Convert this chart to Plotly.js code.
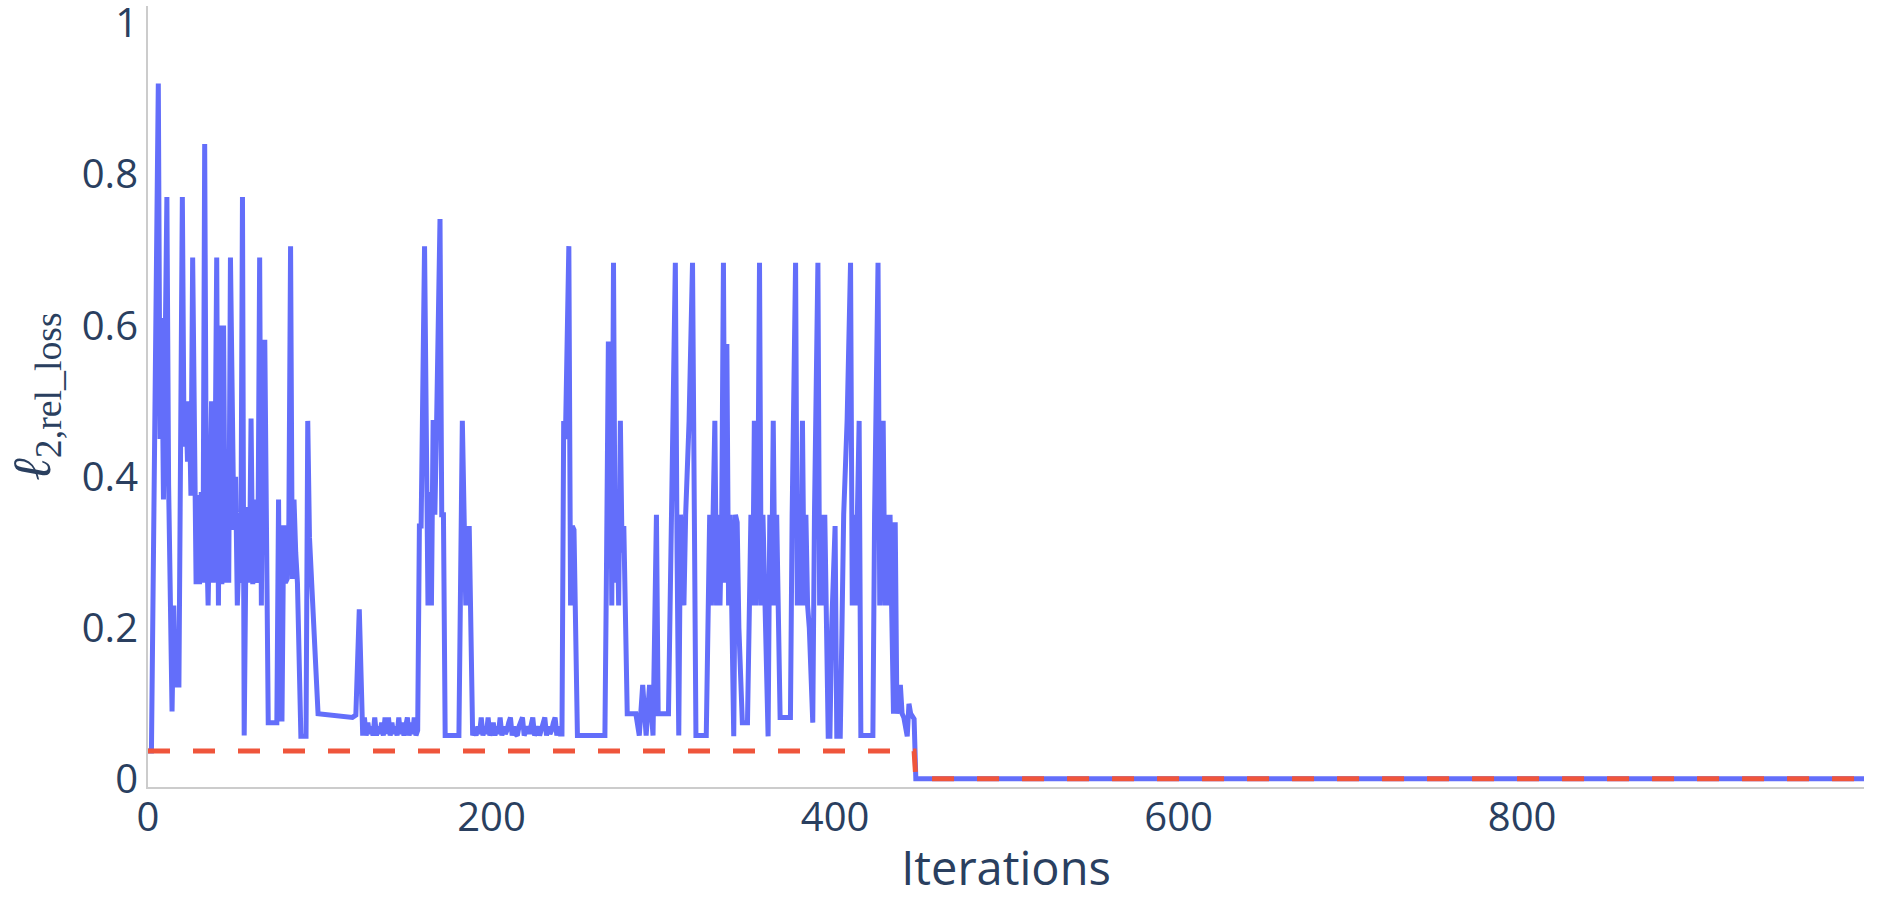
<!DOCTYPE html>
<html>
<head>
<meta charset="utf-8">
<script src="https://cdn.plot.ly/plotly-3.0.1.min.js"></script>
<style>html,body{margin:0;padding:0;background:#fff;}#chart{width:1886px;height:914px;}</style>
</head>
<body>
<div id="chart"></div>
<script>
// Blue series: loss per iteration
const lossIters = [
0,2,6,7,8,9,11,12,14,15,16,18,20,21,22,23,24,25,26,27,28,29,30,31,32,33,34,35,36,37,38,39,40,41,42,43,44,45,46,47,48,49,50,51,52,53,54,55,56,57,58,59,60,61,62,63,64,65,66,67,68,70,72,75,76,77,78,79,80,81,82,83,84,85,86,87,89,92,93,94,99,
104,117,119,121,123,125,126,127,128,129,130,131,132,133,134,135,136,137,138,139,140,141,142,143,144,145,146,147,148,149,150,151,152,153,154,155,156,157,
158,159,161,162,163,164,165,166,167,168,170,171,172,173,181,183,185,186,187,189,
190,191,192,193,194,195,196,197,198,199,200,201,202,203,204,205,206,207,208,209,210,211,212,213,214,215,216,217,218,219,220,221,222,223,224,225,226,227,228,229,230,231,232,233,234,235,236,237,238,239,240,241,
242,243,245,246,247,248,250,266,267,268,269,270,271,272,273,274,275,276,277,279,284,286,288,290,292,294,296,297,303,
305,307,308,309,310,311,312,313,315,317,318,319,325,327,328,329,330,331,332,333,334,335,336,337,338,339,340,341,342,343,344,346,349,
351,352,353,354,355,356,357,358,359,361,362,363,364,365,366,368,374,375,377,378,379,380,381,382,383,384,385,387,388,390,391,392,393,394,396,397,398,400,401,403,404,405,407,409,410,411,412,413,414,415,422,
423,425,426,427,428,429,430,431,432,434,435,436,438,439,440,442,443,444,446,447,999];
const lossValues = [
0.0375,0.0375,0.92,0.45,0.61,0.37,0.77,0.39,0.09,0.23,0.125,0.125,0.77,0.44,0.5,0.42,0.5,0.375,0.69,0.42,0.258,0.376,0.258,0.38,0.26,0.84,0.33,0.23,0.36,0.5,0.26,0.4,0.69,0.23,0.6,0.258,0.6,0.26,0.38,0.26,0.69,0.45,0.33,0.4,0.23,0.3,0.26,0.77,0.058,0.3,0.36,0.26,0.477,0.258,0.37,0.26,0.3,0.69,0.23,0.578,0.578,0.075,0.075,0.075,0.37,0.08,0.08,0.336,0.26,0.265,0.34,0.705,0.265,0.37,0.3,0.26,0.057,0.057,0.474,0.32,0.087,
0.086,0.084,0.082,0.085,0.225,0.058,0.082,0.058,0.075,0.06,0.07,0.058,0.082,0.058,0.07,0.06,0.075,0.058,0.082,0.06,0.082,0.058,0.075,0.06,0.07,0.058,0.082,0.06,0.075,0.058,0.07,0.082,0.058,0.075,0.06,0.082,0.058,0.065,
0.335,0.335,0.705,0.37,0.23,0.38,0.23,0.475,0.35,0.47,0.741,0.35,0.35,0.058,0.058,0.474,0.23,0.3,0.335,0.058,
0.065,0.058,0.07,0.06,0.082,0.058,0.07,0.06,0.082,0.058,0.065,0.075,0.058,0.07,0.06,0.082,0.058,0.07,0.06,0.065,0.075,0.082,0.058,0.07,0.06,0.058,0.07,0.075,0.082,0.058,0.065,0.07,0.06,0.07,0.082,0.058,0.065,0.07,0.058,0.065,0.075,0.082,0.058,0.07,0.06,0.065,0.075,0.082,0.058,0.07,0.06,0.06,
0.474,0.45,0.705,0.23,0.335,0.33,0.058,0.058,0.3,0.5755,0.5755,0.23,0.683,0.26,0.38,0.23,0.474,0.3,0.335,0.087,0.087,0.058,0.125,0.058,0.125,0.058,0.35,0.087,0.087,
0.35,0.683,0.3,0.058,0.35,0.26,0.23,0.35,0.474,0.683,0.23,0.058,0.058,0.35,0.23,0.35,0.474,0.23,0.35,0.23,0.35,0.683,0.26,0.5755,0.23,0.35,0.23,0.057,0.35,0.34,0.2,0.075,0.075,
0.35,0.23,0.474,0.23,0.35,0.683,0.23,0.35,0.23,0.057,0.35,0.23,0.474,0.23,0.35,0.082,0.082,0.35,0.683,0.23,0.35,0.23,0.474,0.23,0.35,0.23,0.2,0.075,0.35,0.683,0.23,0.35,0.23,0.35,0.057,0.057,0.2,0.335,0.057,0.057,0.2,0.35,0.474,0.683,0.23,0.35,0.23,0.35,0.474,0.058,0.058,
0.35,0.683,0.23,0.35,0.474,0.23,0.35,0.23,0.35,0.087,0.34,0.087,0.125,0.087,0.082,0.057,0.1,0.087,0.08,0.001,0.001];

// Red dashed series: best loss so far
const bestIters = [0, 446, 447, 999];
const bestValues = [0.0375, 0.0375, 0.001, 0.001];

const xTickVals = [0, 200, 400, 600, 800];
const yTickVals = [0, 0.2, 0.4, 0.6, 0.8, 1];
const yTickText = ['0', '0.2', '0.4', '0.6', '0.8', '1'];

const traces = [
  {x: lossIters, y: lossValues, type: 'scatter', mode: 'lines',
   line: {color: '#636efa', width: 5}, showlegend: false, hoverinfo: 'skip'},
  {x: bestIters, y: bestValues, type: 'scatter', mode: 'lines',
   line: {color: '#EF553B', width: 5, dash: '22px,23px'}, showlegend: false, hoverinfo: 'skip'}
];

const fontFam = '"Open Sans", sans-serif';
const layout = {
  width: 1886, height: 914,
  margin: {l: 148, r: 22, t: 6, b: 127, pad: 0},
  paper_bgcolor: '#ffffff', plot_bgcolor: '#ffffff',
  font: {family: fontFam, color: '#2a3f5f', size: 40},
  showlegend: false,
  xaxis: {
    range: [0, 999], tickvals: xTickVals, ticks: '', showgrid: false, zeroline: false,
    showline: true, linecolor: '#cccccc', linewidth: 2,
    ticklabelstandoff: -6,
    tickfont: {family: fontFam, size: 40, color: '#2a3f5f'},
    title: {text: 'Iterations', font: {family: fontFam, size: 47, color: '#2a3f5f'}, standoff: 10}
  },
  yaxis: {
    range: [-0.01, 1.0225], tickvals: yTickVals, ticktext: yTickText, ticks: '', showgrid: false, zeroline: false,
    showline: true, linecolor: '#cccccc', linewidth: 2,
    ticklabeloverflow: 'allow',
    tickfont: {family: fontFam, size: 40, color: '#2a3f5f'},
    title: {text: '<i>ℓ</i><sub>2,rel_loss</sub>', font: {family: '"Liberation Serif", "DejaVu Serif", serif', size: 54, color: '#2a3f5f'}, standoff: 14}
  }
};

Plotly.newPlot('chart', traces, layout, {displayModeBar: false, staticPlot: true});
</script>
</body>
</html>
